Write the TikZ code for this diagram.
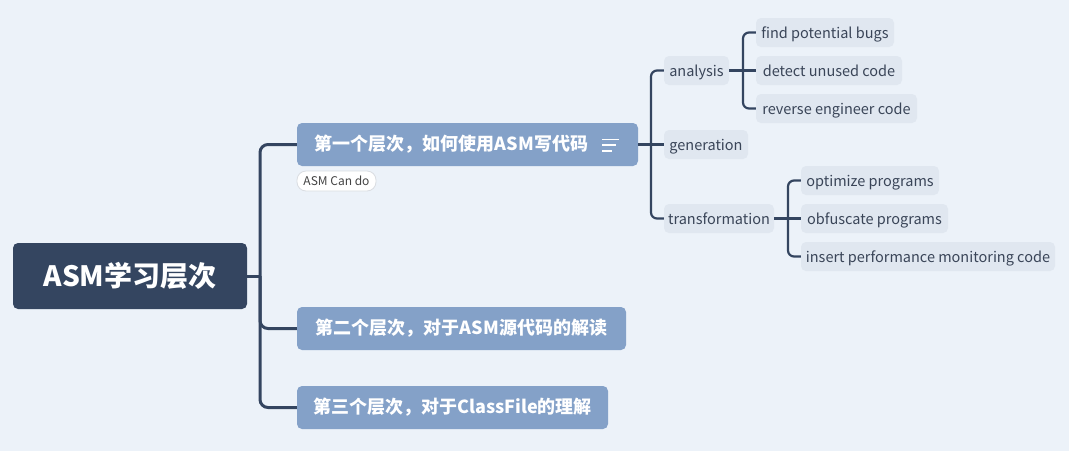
\documentclass[tikz,border=0pt]{standalone}
\usepackage{fontspec}
\setmainfont{Noto Sans CJK SC}
\usetikzlibrary{calc}
\definecolor{bgc}{HTML}{ECF2F9}
\definecolor{rootc}{HTML}{344560}
\definecolor{lonec}{HTML}{84A1C8}
\definecolor{ltwoc}{HTML}{E0E7F0}
\definecolor{txtc}{HTML}{3A4558}
\definecolor{notebd}{HTML}{DADDE2}
\definecolor{notetx}{HTML}{444444}
\begin{document}
\begin{tikzpicture}[x=1pt,y=-1pt,
  rootbox/.style={fill=rootc, text=white, rounded corners=5pt, inner sep=0pt,
    font=\fontsize{28}{34}\selectfont\bfseries},
  lonebox/.style={fill=lonec, text=white, rounded corners=5pt, inner sep=0pt,
    minimum height=43pt, font=\fontsize{18}{22}\selectfont\bfseries},
  ltwobox/.style={fill=ltwoc, text=txtc, rounded corners=5pt, inner sep=0pt,
    minimum height=29pt, text height=13.5pt, text depth=2.5pt, font=\fontsize{14.5}{17}\selectfont},
  notebox/.style={fill=white, draw=notebd, line width=0.8pt, text=notetx, rounded corners=9pt,
    inner sep=0pt, minimum width=79pt, minimum height=20pt, font=\fontsize{12}{14}\selectfont},
  connone/.style={draw=rootc, line width=3pt, rounded corners=8pt},
  conntwo/.style={draw=rootc, line width=2.2pt, rounded corners=6pt}]
\fill[bgc] (0,0) rectangle (1069,451);
\useasboundingbox (0,0) rectangle (1069,451);

% root
\node[rootbox, minimum width=234pt, minimum height=66pt] (root) at (130,276) {ASM学习层次};

% level 1
\node[lonebox, minimum width=341pt] (l1a) at (467.5,144.5) {第一个层次，如何使用ASM写代码\kern32pt\null};
\node[lonebox, minimum width=329pt] (l1b) at (461.5,328.5) {第二个层次，对于ASM源代码的解读};
\node[lonebox, minimum width=311pt] (l1c) at (452.5,407.5) {第三个层次，对于ClassFile的理解};
\node[notebox] (note) at (336.5,181) {ASM Can do};

% note icon
\draw[white, line width=1.6pt] ($(l1a.east)+(-36,-5.2)$) -- ++(16.5,0);
\draw[white, line width=1.6pt] ($(l1a.east)+(-36,0.5)$) -- ++(13.5,0);
\draw[white, line width=1.6pt] ($(l1a.east)+(-36,6.2)$) -- ++(10,0);

% level 2
\node[ltwobox, minimum width=65pt] (ana) at (696.5,70.5) {analysis};
\node[ltwobox, minimum width=84pt] (gen) at (706,144.5) {generation};
\node[ltwobox, minimum width=110pt] (tra) at (719,218.5) {transformation};

% level 3
\node[ltwobox, minimum width=138pt] (find) at (825,32.5) {find potential bugs};
\node[ltwobox, minimum width=146pt] (det) at (829,70.5) {detect unused code};
\node[ltwobox, minimum width=161pt] (rev) at (836.5,108.5) {reverse engineer code};
\node[ltwobox, minimum width=138pt] (opt) at (870,180.5) {optimize programs};
\node[ltwobox, minimum width=147pt] (obf) at (874.5,218.5) {obfuscate programs};
\node[ltwobox, minimum width=254pt] (ins) at (928,256.5) {insert performance monitoring code};

% connectors
\coordinate (j0) at (260,276);
\draw[connone] (root.east) -- (j0);
\draw[connone] (j0) |- (l1a.west);
\draw[connone] (j0) |- (l1b.west);
\draw[connone] (j0) |- (l1c.west);

\coordinate (j1) at (651,144.5);
\draw[conntwo] (l1a.east) -- (gen.west);
\draw[conntwo] (j1) |- (ana.west);
\draw[conntwo] (j1) |- (tra.west);

\coordinate (j2) at (743,70.5);
\draw[conntwo] (ana.east) -- (det.west);
\draw[conntwo] (j2) |- (find.west);
\draw[conntwo] (j2) |- (rev.west);

\coordinate (j3) at (788,218.5);
\draw[conntwo] (tra.east) -- (obf.west);
\draw[conntwo] (j3) |- (opt.west);
\draw[conntwo] (j3) |- (ins.west);
\end{tikzpicture}
\end{document}
